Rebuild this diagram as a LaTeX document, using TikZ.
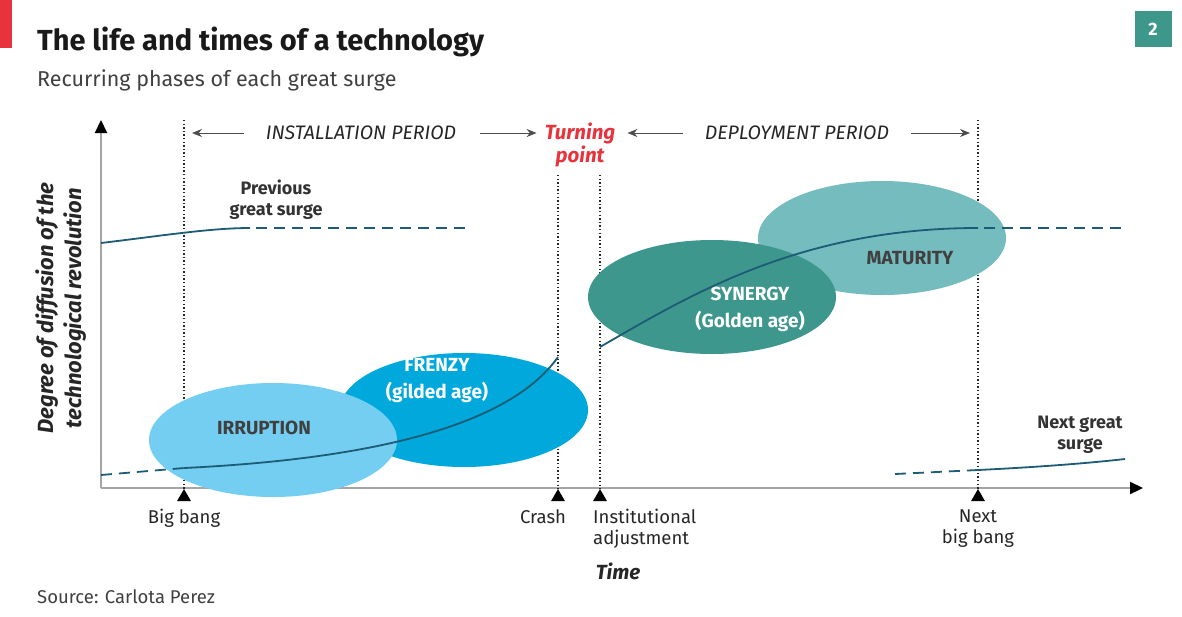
\documentclass[tikz,border=0pt]{standalone}
\usepackage{fontspec}
\setmainfont{Fira Sans}
\usetikzlibrary{shapes.geometric,arrows.meta,positioning}

\definecolor{irrblue}{RGB}{116,206,242}
\definecolor{frenzyblue}{RGB}{0,168,220}
\definecolor{synteal}{RGB}{62,151,141}
\definecolor{matteal}{RGB}{117,188,191}
\definecolor{curveblue}{RGB}{28,92,116}
\definecolor{econred}{RGB}{232,51,60}
\definecolor{badgeteal}{RGB}{62,151,139}
\definecolor{axisgray}{RGB}{165,165,165}

\tikzset{
  titletext/.style={font=\fontsize{29}{32}\selectfont\bfseries, text=black!90, inner sep=0pt},
  subtext/.style={font=\fontsize{21.5}{24}\selectfont, text=black!75, inner sep=0pt},
  badge/.style={fill=badgeteal, text=white, minimum width=37pt, minimum height=36pt, inner sep=0pt, font=\fontsize{18}{20}\selectfont\bfseries},
  lbl/.style={font=\fontsize{18.5}{21}\selectfont, text=black!85, align=center, inner sep=0pt},
  surgelbl/.style={lbl, font=\fontsize{18}{21}\selectfont\bfseries, text=black!80},
  period/.style={font=\fontsize{19.5}{20}\selectfont\itshape, text=black!85, inner sep=0pt},
  phase/.style={ellipse, minimum width=248pt, minimum height=114pt, inner sep=0pt},
  phasetext/.style={font=\fontsize{19}{27}\selectfont\bfseries, align=center, inner sep=0pt},
  marker/.style={regular polygon, regular polygon sides=3, fill=black, inner sep=0pt, minimum size=16pt},
  axis/.style={axisgray, line width=2.2pt, -{Triangle[length=13pt,width=12pt,black]}},
  dotline/.style={line width=1.5pt, dash pattern=on 1.3pt off 2.3pt, black!85},
  periodarrow/.style={-{Stealth[length=10pt,width=8pt]}, black!70, line width=1pt},
  surge/.style={curveblue, line width=1.8pt},
  surgedash/.style={surge, dash pattern=on 11pt off 7pt},
}

\begin{document}
\begin{tikzpicture}[x=1pt,y=-1pt]
  \useasboundingbox (0,0) rectangle (1182,616);

  % heading
  \fill[econred] (0,0) rectangle (12,48);
  \node[titletext, anchor=base west] (title) at (37,50) {The life and times of a technology};
  \node[subtext, anchor=base west] (subtitle) at (37,86) {Recurring phases of each great surge};
  \node[badge] (chartno) at (1153,29) {2};

  % axes
  \coordinate (origin) at (101,488);
  \coordinate (ytip) at (101,120);
  \coordinate (xtip) at (1143,488);
  \draw[axis] (origin) -- (ytip);
  \draw[axis] (origin) -- (xtip);
  \node[lbl, font=\fontsize{22}{28}\selectfont\bfseries\itshape, rotate=90] (ylabel) at (61,308)
    {Degree of diffusion of the\\technological revolution};

  % markers on the time axis
  \node[marker] (bigbang) at (184,497) {};
  \node[marker] (crash) at (558,497) {};
  \node[marker] (adjust) at (600,497) {};
  \node[marker] (nextbang) at (978,497) {};
  \coordinate (bigbangtop) at (184,120);
  \coordinate (crashtop) at (558,175);
  \coordinate (adjusttop) at (600,175);
  \coordinate (nextbangtop) at (978,120);
  \draw[dotline] (bigbangtop) -- (bigbang.north);
  \draw[dotline] (crashtop) -- (crash.north);
  \draw[dotline] (adjusttop) -- (adjust.north);
  \draw[dotline] (nextbangtop) -- (nextbang.north);

  \node[lbl, below=8pt of bigbang.south] (bigbanglbl) {Big bang};
  \node[lbl, anchor=north] (crashlbl) at (543,509) {Crash};
  \node[lbl, align=left, anchor=north west] (adjustlbl) at (593,509) {Institutional\\adjustment};
  \node[lbl, below=8pt of nextbang.south] (nextbanglbl) {Next\\big bang};
  \node[lbl, font=\fontsize{20.5}{22}\selectfont\bfseries\itshape] (timelbl) at (618,571) {Time};
  \node[lbl, anchor=base west, text=black!75] (source) at (37,603) {Source: Carlota Perez};

  % periods
  \node[period] (install) at (361,133) {INSTALLATION PERIOD};
  \node[lbl, font=\fontsize{20.5}{23}\selectfont\bfseries\itshape, text=econred] (turning) at (580,145) {Turning\\point};
  \node[period] (deploy) at (797,133) {DEPLOYMENT PERIOD};
  \draw[periodarrow] ([xshift=-22pt]install.west) -- ([xshift=8pt]bigbangtop |- install.west);
  \draw[periodarrow] ([xshift=24pt]install.east) -- ([xshift=-8pt]turning.west |- install.east);
  \draw[periodarrow] ([xshift=-22pt]deploy.west) -- ([xshift=12pt]turning.east |- deploy.west);
  \draw[periodarrow] ([xshift=22pt]deploy.east) -- ([xshift=-8pt]nextbangtop |- deploy.east);

  % phases
  \node[phase, fill=matteal] (maturity) at (882,238) {};
  \node[phase, fill=synteal] (synergy) at (712,297) {};
  \node[phase, fill=frenzyblue] (frenzy) at (464,410) {};
  \node[phase, fill=irrblue] (irruption) at (273,440) {};
  \node[phasetext, text=black!75] (irrtext) at (264,428) {IRRUPTION};
  \node[phasetext, text=white] (frenzytext) at (437,381) {FRENZY\\(gilded age)};
  \node[phasetext, text=white] (syntext) at (750,309) {SYNERGY\\(Golden age)};
  \node[phasetext, text=black!75] (mattext) at (910,258) {MATURITY};

  % surges
  \draw[surge] (101,243) .. controls (160,236) and (210,228) .. (250,228);
  \draw[surgedash] (256,228) -- (466,228);
  \draw[surgedash] (101,475) -- (184,468);
  \draw[surge] (184,468) .. controls (350,460) and (505,432) .. (558,357);
  \draw[surge] (600,347) .. controls (690,295) and (800,228) .. (978,228);
  \draw[surgedash] (984,228) -- (1125,228);
  \draw[surgedash] (895,474) -- (978,470);
  \draw[surge] (978,470) .. controls (1040,467) and (1090,463) .. (1125,459);
  \node[surgelbl] (prevlbl) at (276,200) {Previous\\great surge};
  \node[surgelbl] (nextlbl) at (1080,435) {Next great\\surge};
\end{tikzpicture}
\end{document}
